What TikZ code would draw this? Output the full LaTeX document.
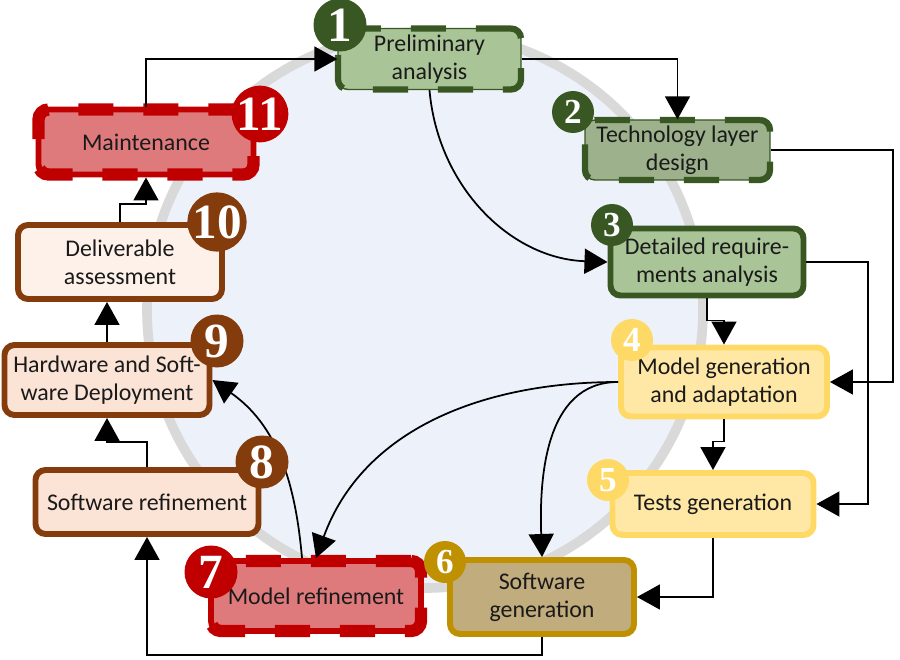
\documentclass[tikz,border=0pt]{standalone}
\usepackage{fontspec}
\setmainfont{Carlito}
\newfontfamily\numfont{Liberation Serif}
\usetikzlibrary{calc,arrows.meta}
\definecolor{ink}{HTML}{1A1A1A}
\definecolor{disc}{HTML}{EDF2FA}
\definecolor{ring}{HTML}{D9D9D9}
\definecolor{dkgreen}{HTML}{385723}
\definecolor{grfill}{HTML}{A9C496}
\definecolor{grfilldk}{HTML}{9CB18C}
\definecolor{yelline}{HTML}{FFD966}
\definecolor{yelfill}{HTML}{FFE8A6}
\definecolor{goldline}{HTML}{BF9000}
\definecolor{goldfill}{HTML}{C0AC7C}
\definecolor{redline}{HTML}{C00000}
\definecolor{redfill}{HTML}{DF7A7C}
\definecolor{brown}{HTML}{843C0C}
\definecolor{peach}{HTML}{FBE3D5}
\definecolor{peachlt}{HTML}{FDF1EA}
\tikzset{
  stage/.style={rounded corners=0.2cm, align=center, text=ink, inner sep=0pt,
    font=\fontsize{13.6}{15.8}\selectfont},
  thinbox/.style={stage, fill=#1, draw=dkgreen, line width=0.8pt,
    postaction={draw=dkgreen, line width=3.6pt, dash pattern=on 20pt off 17pt}},
  solidbox/.style 2 args={stage, fill=#2, draw=#1, line width=3.4pt},
  redbox/.style={stage, fill=redfill, draw=redline, line width=3.4pt,
    postaction={draw=redline, line width=7pt, dash pattern=on 20pt off 17pt}},
  badge/.style={circle, fill=#1, text=white, inner sep=0pt},
  bigbadge/.style={badge=#1, minimum size=1.06cm,
    font=\numfont\bfseries\fontsize{28}{28}\selectfont},
  smallbadge/.style={badge=#1, minimum size=0.84cm,
    font=\numfont\bfseries\fontsize{20}{20}\selectfont},
  conn/.style={draw=black, line width=1pt,
    -{Triangle[length=0.46cm, width=0.5cm]}}
}

\begin{document}
\begin{tikzpicture}
  \useasboundingbox (0,0) rectangle (18,13.18);
  \coordinate (cc) at (8.5,6.98);
  \fill[disc] (cc) circle (5.56);
  \draw[ring, line width=5.5pt] (cc) circle (5.56);

  \node[thinbox=grfill, minimum width=3.66cm, minimum height=1.22cm] (prelim) at (8.59,12.0) {Preliminary\\analysis};
  \node[thinbox=grfilldk, minimum width=3.7cm, minimum height=1.2cm] (techlayer) at (13.55,10.18) {Technology layer\\design};
  \node[solidbox={dkgreen}{grfill}, minimum width=3.86cm, minimum height=1.34cm] (detreq) at (14.14,7.94) {Detailed require-\\ments analysis};
  \node[solidbox={yelline}{yelfill}, minimum width=4.12cm, minimum height=1.38cm] (modelgen) at (14.48,5.54) {Model generation\\and adaptation};
  \node[solidbox={yelline}{yelfill}, minimum width=4.02cm, minimum height=1.24cm] (testgen) at (14.26,3.1) {Tests generation};
  \node[solidbox={goldline}{goldfill}, minimum width=3.68cm, minimum height=1.48cm] (swgen) at (10.84,1.24) {Software\\generation};
  \node[redbox, minimum width=4.2cm, minimum height=1.4cm] (modelref) at (6.32,1.26) {Model refinement};
  \node[solidbox={brown}{peach}, minimum width=4.46cm, minimum height=1.28cm] (swref) at (2.94,3.14) {Software refinement};
  \node[solidbox={brown}{peach}, minimum width=4.1cm, minimum height=1.4cm] (deploy) at (2.14,5.58) {Hardware and Soft-\\ware Deployment};
  \node[solidbox={brown}{peachlt}, minimum width=4.08cm, minimum height=1.48cm] (deliv) at (2.4,7.94) {Deliverable\\assessment};
  \node[redbox, minimum width=4.3cm, minimum height=1.3cm] (maint) at (2.92,10.34) {Maintenance};

  \coordinate (railA) at (17.86,8);
  \coordinate (railB) at (17.36,6);
  \coordinate (railC) at (6,0.08);
  \draw[conn] (maint.north) |- (prelim.west);
  \draw[conn] (prelim.east) -| (techlayer.north);
  \draw[conn] (prelim.south) to[out=-85,in=178] (detreq.west);
  \draw[conn] (techlayer.east) -| (railA) |- (modelgen.east);
  \draw[conn] (detreq.east) -| (railB) |- (testgen.east);
  \draw[conn] (detreq.south) -- ++(0,-0.44) -| (modelgen.north);
  \draw[conn] (modelgen.south) -- ++(0,-0.44) -| (testgen.north);
  \draw[conn] (modelgen.west) to[out=180,in=70] (modelref.north);
  \draw[conn] (modelgen.west) to[out=180,in=92] (swgen.north);
  \draw[conn] (testgen.south) |- (swgen.east);
  \draw[conn] (swgen.south) |- (railC) -| (swref.south);
  \draw[conn] ($(modelref.north)+(-0.28,0)$) to[out=95,in=-35] (deploy.east);
  \draw[conn] (swref.north) -- ++(0,0.5) -| (deploy.south);
  \draw[conn] (deploy.north) -- (deploy.north |- deliv.south);
  \draw[conn] (deliv.north) -- ++(0,0.36) -| (maint.south);

  \node[bigbadge=dkgreen] (num1) at (6.8,12.68) {1};
  \node[smallbadge=dkgreen] (num2) at (11.46,10.94) {2};
  \node[smallbadge=dkgreen] (num3) at (12.24,8.68) {3};
  \node[smallbadge=yelline] (num4) at (12.64,6.38) {4};
  \node[smallbadge=yelline] (num5) at (12.16,3.58) {5};
  \node[smallbadge=goldline] (num6) at (8.9,1.94) {6};
  \node[bigbadge=redline] (num7) at (4.22,1.74) {7};
  \node[bigbadge=brown] (num8) at (5.24,3.94) {8};
  \node[bigbadge=brown] (num9) at (4.34,6.36) {9};
  \node[bigbadge=brown] (num10) at (4.34,8.74) {10};
  \node[bigbadge=redline] (num11) at (5.2,10.9) {11};
\end{tikzpicture}
\end{document}
